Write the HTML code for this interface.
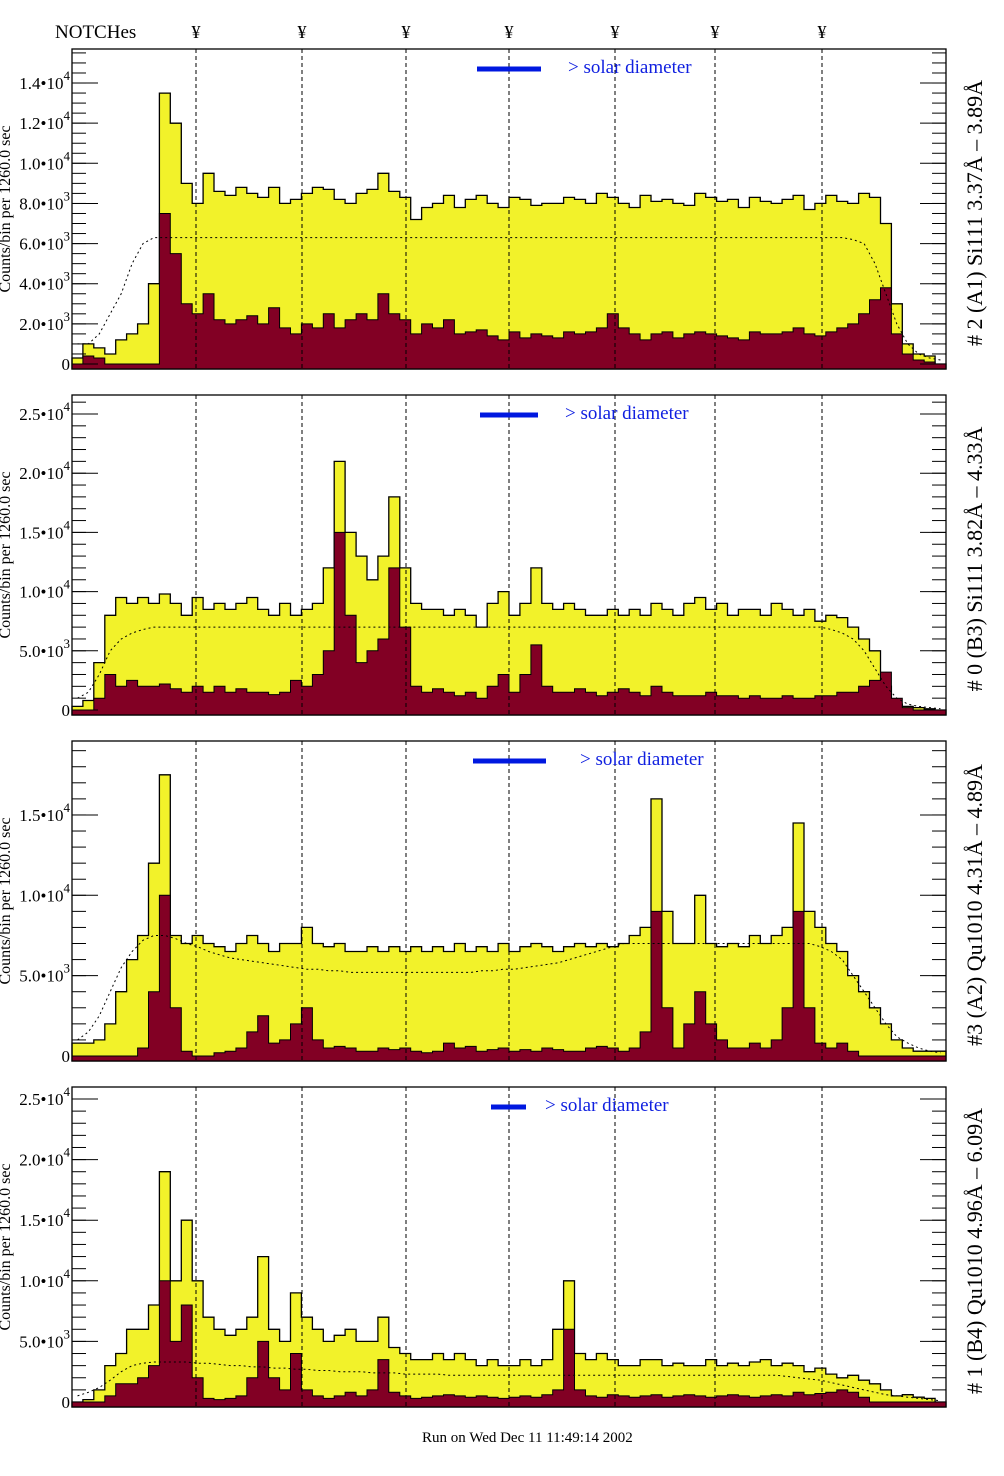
<!DOCTYPE html>
<html><head><meta charset="utf-8"><style>
html,body{margin:0;padding:0;background:#fff;}
svg{display:block;font-family:"Liberation Serif",serif;}
</style></head><body>
<svg id="chart" width="1004" height="1476" viewBox="0 0 1004 1476" xmlns="http://www.w3.org/2000/svg">
</svg>
<script>
// ---- data (counts in thousands per bin, 80 bins spanning the x range) ----
const p1Total=[0.3,1.0,0.8,0.5,1.2,1.5,2,4,13.5,12,9,8,9.5,8.6,8.4,8.8,8.5,8.3,8.8,8,8.2,8.5,8.8,8.7,8.2,8,8.5,8.7,9.5,8.6,8.3,7.2,7.8,8,8.4,7.8,8.2,8.4,8,7.8,8.3,8.2,7.9,8,8,8.3,8.2,8,8.5,8.3,8,7.8,8.4,8.1,8.2,8,7.9,8.5,8.3,8.1,8.2,7.8,8.3,8.1,8,8.2,8.4,7.7,8,8.4,8.1,8,8.5,8.3,7,3,1,0.5,0.4,0];
const p1Sub=[0,0.4,0.3,0,0,0,0,0,7.5,5.5,3,2.5,3.5,2.2,2,2.2,2.4,2,2.8,1.8,1.5,2,1.8,2.5,1.8,2.2,2.5,2.2,3.5,2.5,2.2,1.5,2,1.8,2.2,1.5,1.6,1.7,1.4,1.2,1.6,1.3,1.5,1.4,1.3,1.6,1.5,1.6,1.8,2.5,1.8,1.5,1.2,1.5,1.6,1.3,1.5,1.6,1.5,1.4,1.3,1.2,1.6,1.5,1.5,1.6,1.8,1.5,1.4,1.6,1.8,2,2.5,3.2,3.8,1.5,0.5,0.2,0.1,0];
const p1Model=[1,1,1.5,2.5,3.5,5,6,6.3,6.3,6.3,6.3,6.3,6.3,6.3,6.3,6.3,6.3,6.3,6.3,6.3,6.3,6.3,6.3,6.3,6.3,6.3,6.3,6.3,6.3,6.3,6.3,6.3,6.3,6.3,6.3,6.3,6.3,6.3,6.3,6.3,6.3,6.3,6.3,6.3,6.3,6.3,6.3,6.3,6.3,6.3,6.3,6.3,6.3,6.3,6.3,6.3,6.3,6.3,6.3,6.3,6.3,6.3,6.3,6.3,6.3,6.3,6.3,6.3,6.3,6.3,6.3,6.2,6,5,3.5,2,1,0.5,0.3,0.2];

const p2Total=[0.3,0.8,4,8,9.5,9,9.5,9,9.8,9,8,9.5,8.5,9,8.5,9,9.5,8.5,8,9,8,8.5,9,12,21,15,13,11,13,18,12,9,8.5,8.5,8,8.5,8,7,9,10,8,9,12,9,8.5,9,8.5,8,8,8.5,8,8.5,8,9,8.5,8,9,9.5,8.5,9,8,8.5,8.5,8,9,8.5,8,8.5,7.5,8,7.8,7,6,5,2,0.5,0.3,0.2,0.1,0];
const p2Sub=[0,0,1,3,2,2.5,2,2,2.2,1.8,1.5,2,1.5,2,1.5,1.8,1.5,1.5,1.3,1.5,2.5,2,3,5,15,8,4,5,6,12,7,2,1.5,1.8,1.5,1.2,1.5,1,2,3,1.5,3,5.5,2,1.5,1.5,1.8,1.5,1.2,1.5,1.8,1.5,1.2,2,1.5,1.2,1.2,1.2,1.5,1.2,1.2,1,1.2,1,1,1.2,1,1,1.2,1.2,1.5,1.5,2,2.5,3.2,1,0.2,0,0,0];
const p2Model=[1,1.5,3,5,6,6.5,6.8,7,7,7,7,7,7,7,7,7,7,7,7,7,7,7,7,7,7,7,7,7,7,7,7,7,7,7,7,7,7,7,7,7,7,7,7,7,7,7,7,7,7,7,7,7,7,7,7,7,7,7,7,7,7,7,7,7,7,7,7,7,7,6.8,6.5,6,5,3.5,2,1,0.5,0.3,0.2,0.1];

const p3Total=[0.8,0.8,1,2,4,6,7.5,12,17.5,7.5,7,7.5,7,6.8,6.5,7,7.5,7,6.5,7,7,8,7,6.8,7,6.5,6.5,6.8,6.5,6.8,6.5,6.8,6.5,6.8,6.5,7,6.5,6.8,6.5,7,6.5,6.8,7,6.8,6.5,6.8,7,6.8,7,6.8,7,7.5,8,16,9,7,7,10,7,6.8,7,6.8,7.5,7,7.5,8,14.5,9,8,7,6.5,5,4,3,2,1,0.5,0.3,0.3,0.3];
const p3Sub=[0,0,0,0,0,0,0.5,4,10,3,0.3,0,0,0.2,0.3,0.5,1.5,2.5,0.8,1,2,3,1,0.5,0.6,0.5,0.3,0.3,0.5,0.4,0.5,0.3,0.2,0.3,0.8,0.5,0.6,0.3,0.4,0.5,0.3,0.4,0.3,0.5,0.4,0.3,0.3,0.5,0.6,0.5,0.3,0.5,1.5,9,3,0.5,2,4,2,1,0.5,0.5,0.8,0.5,1,3,9,3,0.8,0.5,0.8,0.3,0,0,0,0,0,0,0,0];
const p3Model=[1,1.5,2.5,4,5.5,6.5,7.2,7.5,7.5,7.3,7,6.8,6.5,6.3,6.1,6,5.9,5.8,5.7,5.6,5.5,5.4,5.4,5.3,5.3,5.2,5.2,5.2,5.2,5.2,5.2,5.2,5.2,5.2,5.2,5.2,5.2,5.3,5.3,5.4,5.4,5.5,5.6,5.7,5.8,6,6.2,6.4,6.6,6.8,7,7,7,7,7,7,7,7,7,7,7,7,7,7,7,7,7,7,6.8,6.5,6,5,4,3,2,1.2,0.8,0.5,0.3,0.2];

const p4Total=[0,0.2,1,3,4,6,6,8,19,10,15,10,7,6,5.5,6,7,12,6,5,9,7,6,5,5.5,6,5,5,7,4.5,4,3.5,3.5,4,3.5,4,3.5,3,3.5,3,3,3.5,3,3.5,6,10,4,3.5,4,3.5,3,3,3.5,3.5,3,3.2,3,3,3.5,3,3.2,3,3.3,3.5,3,3.2,3,2.5,2.8,2.3,2,2.2,1.8,1.5,1,0.5,0.6,0.4,0.3,0];
const p4Sub=[0,0,0,0.5,1.5,1.5,2,3,10,5,8,2,0.3,0.2,0.3,0.5,2,5,2,1,4,1,0.5,0.3,0.5,0.8,0.5,1,3.5,0.8,0.5,0.3,0.4,0.5,0.6,0.5,0.4,0.5,0.4,0.3,0.4,0.5,0.4,0.6,1,6,1,0.5,0.4,0.6,0.5,0.4,0.5,0.6,0.4,0.5,0.6,0.5,0.4,0.5,0.6,0.5,0.4,0.5,0.6,0.5,0.8,0.6,0.7,0.8,1,0.8,0.4,0,0,0,0,0,0,0];
const p4Model=[0.5,0.8,1.2,1.8,2.5,3,3.2,3.3,3.3,3.3,3.3,3.2,3.2,3.1,3,3,2.9,2.9,2.8,2.8,2.7,2.7,2.6,2.6,2.5,2.5,2.5,2.4,2.4,2.4,2.3,2.3,2.3,2.3,2.2,2.2,2.2,2.2,2.2,2.2,2.2,2.2,2.2,2.2,2.2,2.2,2.2,2.2,2.2,2.2,2.2,2.2,2.2,2.2,2.2,2.2,2.2,2.2,2.2,2.2,2.2,2.2,2.2,2.2,2.2,2.1,2,1.9,1.8,1.6,1.4,1.2,1,0.8,0.6,0.5,0.4,0.3,0.2,0.1];

const notchLabels=["¥","¥","¥","¥","¥","¥","¥"];
const notchPos=[196,302,406,509,615,715,822];
const p1Ticks=[0,2,4,6,8,10,12,14];
const p1TickLabels=["0","2.0•10|3","4.0•10|3","6.0•10|3","8.0•10|3","1.0•10|4","1.2•10|4","1.4•10|4"];
const p2Ticks=[0,5,10,15,20,25];
const p2TickLabels=["0","5.0•10|3","1.0•10|4","1.5•10|4","2.0•10|4","2.5•10|4"];
const p3Ticks=[0,5,10,15];
const p3TickLabels=["0","5.0•10|3","1.0•10|4","1.5•10|4"];
const p4Ticks=[0,5,10,15,20,25];
const p4TickLabels=["0","5.0•10|3","1.0•10|4","1.5•10|4","2.0•10|4","2.5•10|4"];
const titles=["# 2 (A1) Si111  3.37Å – 3.89Å","# 0 (B3) Si111  3.82Å – 4.33Å","#3 (A2) Qu1010  4.31Å – 4.89Å","# 1 (B4) Qu1010 4.96Å – 6.09Å"];

const NS="http://www.w3.org/2000/svg";
const svg=document.getElementById('chart');
function mk(tag,attrs,parent){const e=document.createElementNS(NS,tag);for(const k in attrs)e.setAttribute(k,attrs[k]);(parent||svg).appendChild(e);return e;}

const X0=72,X1=946;
const panels=[
 {top:49,bot:369,zero:364,ppk:20.07,total:p1Total,sub:p1Sub,model:p1Model,ticks:p1Ticks,labels:p1TickLabels,minor:0.5,bar:[477,541],sx:568},
 {top:395,bot:715,zero:710,ppk:11.84,total:p2Total,sub:p2Sub,model:p2Model,ticks:p2Ticks,labels:p2TickLabels,minor:1,bar:[480,538],sx:565},
 {top:741,bot:1061,zero:1056,ppk:16.07,total:p3Total,sub:p3Sub,model:p3Model,ticks:p3Ticks,labels:p3TickLabels,minor:1,bar:[473,546],sx:580},
 {top:1087,bot:1407,zero:1402,ppk:12.12,total:p4Total,sub:p4Sub,model:p4Model,ticks:p4Ticks,labels:p4TickLabels,minor:1,bar:[491,526],sx:545}
];

let t=mk('text',{x:55,y:38,'font-size':19,fill:'#000'});t.textContent='NOTCHes';


notchPos.forEach((x,i)=>{const s=mk('text',{x:x,y:38,'font-size':18,'text-anchor':'middle',fill:'#000'});s.textContent=notchLabels[i];
 
 });

function histPath(vals,p){
 const n=vals.length,w=(X1-X0)/n;
 const y=v=>Math.max(p.top+1,p.zero-v*p.ppk);
 let d='M'+X0+','+p.bot;
 vals.forEach((v,i)=>{d+=' L'+(X0+i*w).toFixed(1)+','+y(v).toFixed(1)+' L'+(X0+(i+1)*w).toFixed(1)+','+y(v).toFixed(1);});
 d+=' L'+X1+','+p.bot+' Z';return d;}

panels.forEach((p,pi)=>{
 const g=mk('g',{});
 
 
 const a=mk('path',{d:histPath(p.total,p),fill:'#f2f22a',stroke:'#000','stroke-width':1.3},g);
 
 
 const b=mk('path',{d:histPath(p.sub,p),fill:'#820024',stroke:'#000','stroke-width':1},g);
 
 
 const n=p.model.length,w=(X1-X0)/n;
 let d='';p.model.forEach((v,i)=>{d+=(i?' L':'M')+(X0+(i+0.5)*w).toFixed(1)+','+(p.zero-v*p.ppk).toFixed(1);});
 const m=mk('path',{d:d,fill:'none',stroke:'#000','stroke-width':1,'stroke-dasharray':'2,3'},g);
 
 
 notchPos.forEach(x=>{const l=mk('line',{x1:x,x2:x,y1:p.top,y2:p.bot,stroke:'#000','stroke-width':1,'stroke-dasharray':'4,3'},g);
  
  });
 const f=mk('rect',{x:X0,y:p.top,width:X1-X0,height:p.bot-p.top,fill:'none',stroke:'#000','stroke-width':1.3},g);
 
 
 const maxV=(p.zero-p.top)/p.ppk;
 for(let v=0;v<=maxV;v+=p.minor){const yy=p.zero-v*p.ppk;mk('line',{x1:X0,x2:X0+14,y1:yy,y2:yy,stroke:'#000','stroke-width':1},g);mk('line',{x1:X1,x2:X1-14,y1:yy,y2:yy,stroke:'#000','stroke-width':1},g);}
 p.ticks.forEach((v,i)=>{const yy=p.zero-v*p.ppk;
  mk('line',{x1:X0,x2:X0+26,y1:yy,y2:yy,stroke:'#000','stroke-width':1},g);
  mk('line',{x1:X1,x2:X1-26,y1:yy,y2:yy,stroke:'#000','stroke-width':1},g);
  const parts=p.labels[i].split('|');
  const tx=mk('text',{x:70,y:yy+6,'font-size':17,'text-anchor':'end',fill:'#000'},g);
  
  
  if(parts.length>1){tx.appendChild(document.createTextNode(parts[0]));const s=document.createElementNS(NS,'tspan');s.setAttribute('dy','-9');s.setAttribute('font-size','13');s.textContent=parts[1];tx.appendChild(s);tx.setAttribute('x',70);}
  else tx.textContent=parts[0];});
 const cy=(p.top+p.bot)/2;
 const yt=mk('text',{x:0,y:0,'font-size':16,'text-anchor':'middle',fill:'#000',transform:'translate(10,'+cy+') rotate(-90)','xml:space':'preserve'},g);
 yt.textContent='Counts/bin per   1260.0 sec';
 
 
 const sb=mk('line',{x1:p.bar[0],x2:p.bar[1],y1:p.top+20,y2:p.top+20,stroke:'#0018e0','stroke-width':5},g);
 
 
 const st=mk('text',{x:p.sx,y:p.top+24,'font-size':19,fill:'#1020e0'},g);st.textContent='> solar diameter';
 
 
 const rt=mk('text',{x:0,y:0,'font-size':22,'text-anchor':'middle',fill:'#000',transform:'translate(982,'+(cy+4)+') rotate(-90)','xml:space':'preserve'},g);
 rt.textContent=titles[pi];
 
 
});
const ft=mk('text',{x:422,y:1442,'font-size':15,fill:'#000'});ft.textContent='Run on Wed Dec 11 11:49:14 2002';


</script>
</body></html>
